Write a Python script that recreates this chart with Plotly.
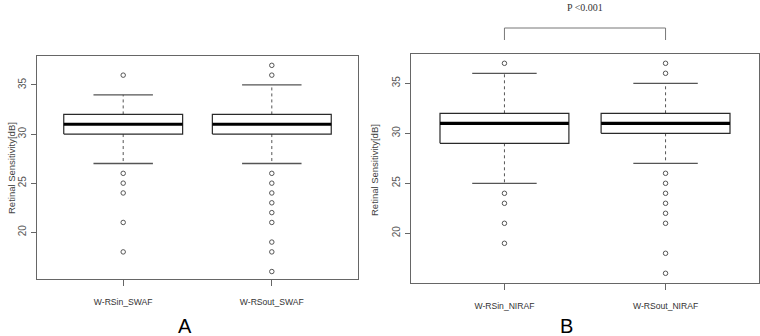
import plotly.graph_objects as go

# ---- data ----
categories_A = ["W-RSin_SWAF", "W-RSout_SWAF"]
q1_A = [30, 30]
median_A = [31, 31]
q3_A = [32, 32]
lower_A = [27, 27]
upper_A = [34, 35]
outliers_A = [[36, 26, 25, 24, 21, 18],
              [37, 36, 26, 25, 24, 23, 22, 21, 19, 18, 16]]

categories_B = ["W-RSin_NIRAF", "W-RSout_NIRAF"]
q1_B = [29, 30]
median_B = [31, 31]
q3_B = [32, 32]
lower_B = [25, 27]
upper_B = [36, 35]
outliers_B = [[37, 24, 23, 21, 19],
              [37, 36, 26, 25, 24, 23, 22, 21, 18, 16]]

y_ticks = [20, 25, 30, 35]
y_title = "Retinal Sensitivity[dB]"
p_text = "P <0.001"

BOX_HALF = 0.4
CAP_HALF = 0.2
LINE = "#2a2a2a"
GREY = "#555555"

fig = go.Figure()


def add_panel(xa, ya, q1, med, q3, lo, hi, outs):
    for i in range(len(q1)):
        pos = i + 1
        # dashed whiskers
        for a, b in ((q3[i], hi[i]), (q1[i], lo[i])):
            fig.add_trace(go.Scatter(x=[pos, pos], y=[a, b], mode="lines",
                                     line=dict(color=GREY, width=1, dash="3px,3px"),
                                     xaxis=xa, yaxis=ya, hoverinfo="skip", showlegend=False))
        # caps
        for v in (lo[i], hi[i]):
            fig.add_trace(go.Scatter(x=[pos - CAP_HALF, pos + CAP_HALF], y=[v, v], mode="lines",
                                     line=dict(color=GREY, width=1.3),
                                     xaxis=xa, yaxis=ya, hoverinfo="skip", showlegend=False))
        # box
        fig.add_trace(go.Scatter(x=[pos - BOX_HALF, pos + BOX_HALF, pos + BOX_HALF, pos - BOX_HALF, pos - BOX_HALF],
                                 y=[q1[i], q1[i], q3[i], q3[i], q1[i]], mode="lines",
                                 fill="toself", fillcolor="white",
                                 line=dict(color=LINE, width=1.2),
                                 xaxis=xa, yaxis=ya, hoverinfo="skip", showlegend=False))
        # median
        fig.add_trace(go.Scatter(x=[pos - BOX_HALF, pos + BOX_HALF], y=[med[i], med[i]], mode="lines",
                                 line=dict(color="black", width=3.2),
                                 xaxis=xa, yaxis=ya, hoverinfo="skip", showlegend=False))
        # outliers
        fig.add_trace(go.Scatter(x=[pos] * len(outs[i]), y=outs[i], mode="markers",
                                 marker=dict(symbol="circle-open", size=4.5, color="#555555",
                                             line=dict(width=1)),
                                 xaxis=xa, yaxis=ya, hoverinfo="skip", showlegend=False))


add_panel("x", "y", q1_A, median_A, q3_A, lower_A, upper_A, outliers_A)
add_panel("x2", "y2", q1_B, median_B, q3_B, lower_B, upper_B, outliers_B)

tickfont_y = dict(family="Liberation Sans, Arial, sans-serif", size=10, color="#555555")
tickfont_x = dict(family="Liberation Sans, Arial, sans-serif", size=8.6, color="#333333")

common_x = dict(range=[0.42, 2.58], tickmode="array", tickvals=[1, 2],
                showline=True, mirror=True, linecolor="#666666", linewidth=1.2,
                ticks="outside", ticklen=6, tickcolor="#666666", showgrid=False,
                zeroline=False, tickfont=tickfont_x, fixedrange=True, ticklabelstandoff=9)
common_y = dict(tickmode="array", tickvals=y_ticks, tickangle=-90,
                showline=True, mirror=True, linecolor="#666666", linewidth=1.2,
                ticks="outside", ticklen=5, tickcolor="#666666", showgrid=False,
                zeroline=False, tickfont=tickfont_y, fixedrange=True, ticklabelstandoff=1)

fig.update_layout(
    width=760, height=336,
    margin=dict(l=0, r=0, t=0, b=0),
    paper_bgcolor="white", plot_bgcolor="white",
    showlegend=False,
    xaxis=dict(common_x, domain=[37 / 760, 358 / 760], ticktext=categories_A, anchor="y"),
    yaxis=dict(common_y, domain=[1 - 279 / 336, 1 - 56 / 336], range=[15.24, 37.95], anchor="x"),
    xaxis2=dict(common_x, domain=[411 / 760, 759 / 760], ticktext=categories_B, anchor="y2"),
    yaxis2=dict(common_y, domain=[1 - 283 / 336, 1 - 54 / 336], range=[15.03, 37.93], anchor="x2"),
)

label_font = dict(family="Liberation Sans, Arial, sans-serif", size=9.5, color="#444444")
fig.add_annotation(text=y_title, xref="paper", yref="paper", x=11 / 760, y=1 - 168 / 336,
                   xanchor="center", yanchor="middle",
                   textangle=-90, showarrow=False, font=label_font)
fig.add_annotation(text=y_title, xref="paper", yref="paper", x=374 / 760, y=1 - 170 / 336,
                   xanchor="center", yanchor="middle",
                   textangle=-90, showarrow=False, font=label_font)

panel_font = dict(family="Liberation Sans, Arial, sans-serif", size=20, color="black")
fig.add_annotation(text="A", xref="paper", yref="paper", x=185 / 760, y=1 - 326 / 336,
                   xanchor="center", yanchor="middle", showarrow=False, font=panel_font)
fig.add_annotation(text="B", xref="paper", yref="paper", x=566 / 760, y=1 - 326 / 336,
                   xanchor="center", yanchor="middle", showarrow=False, font=panel_font)

# significance bracket between the two NIRAF groups
y_low = 1 - 40 / 336
y_high = 1 - 28 / 336
fig.add_shape(type="line", xref="x2", yref="paper", x0=1, x1=1, y0=y_low, y1=y_high,
              line=dict(color="#777777", width=1))
fig.add_shape(type="line", xref="x2", yref="paper", x0=2, x1=2, y0=y_low, y1=y_high,
              line=dict(color="#777777", width=1))
fig.add_shape(type="line", xref="x2", yref="paper", x0=1, x1=2, y0=y_high, y1=y_high,
              line=dict(color="#777777", width=1))
fig.add_annotation(text=p_text, xref="x2", yref="paper", x=1.5, y=1 - 7 / 336,
                   xanchor="center", yanchor="middle", showarrow=False,
                   font=dict(family="Liberation Serif, Times New Roman, serif", size=10, color="#333333"))

fig.write_html("out.html", config={"displayModeBar": False},
               post_script="document.body.style.margin='0';document.body.style.overflow='hidden';")
